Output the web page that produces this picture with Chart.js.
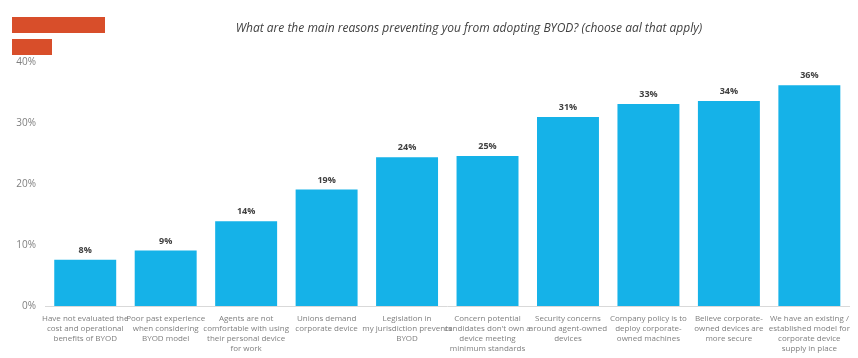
<!DOCTYPE html>
<html><head><meta charset="utf-8">
<script src="https://cdn.jsdelivr.net/npm/chart.js@4"></script>
<style>
html,body{margin:0;padding:0;background:#fff;}
#wrap{position:relative;width:858px;height:358px;}
.tag{position:absolute;background:#D84E2A;}
#title{position:absolute;left:0;width:938px;top:19px;text-align:center;white-space:nowrap;
  font-family:"Open Sans";font-style:italic;font-size:12px;color:#404040;line-height:18px;}
canvas{position:absolute;left:0;top:0;}
</style></head>
<body>
<div id="wrap">
<div class="tag" style="left:12px;top:17px;width:93px;height:16px"></div>
<div class="tag" style="left:12px;top:39px;width:40px;height:16px"></div>
<canvas id="c" width="858" height="358"></canvas>
<div id="title"></div>
</div>
<script>
const titleText = "What are the main reasons preventing you from adopting BYOD? (choose aal that apply)";
const categories = [
  ["Have not evaluated the","cost and operational","benefits of BYOD"],
  ["Poor past experience","when considering","BYOD model"],
  ["Agents are not","comfortable with using","their personal device","for work"],
  ["Unions demand","corporate device"],
  ["Legislation in","my jurisdiction prevents","BYOD"],
  ["Concern potential","candidates don't own a","device meeting","minimum standards"],
  ["Security concerns","around agent-owned","devices"],
  ["Company policy is to","deploy corporate-","owned machines"],
  ["Believe corporate-","owned devices are","more secure"],
  ["We have an existing /","established model for","corporate device","supply in place"]
];
const values = [7.6, 9.1, 13.9, 19.1, 24.4, 24.6, 31.0, 33.1, 33.6, 36.2];
const yTicks = [0, 10, 20, 30, 40];

document.getElementById('title').textContent = titleText;

const valueLabels = {
  id: 'valueLabels',
  afterDatasetsDraw(chart) {
    const ctx = chart.ctx;
    const meta = chart.getDatasetMeta(0);
    ctx.save();
    ctx.font = 'bold 9px "Open Sans"';
    ctx.fillStyle = '#404040';
    ctx.textAlign = 'center';
    ctx.textBaseline = 'bottom';
    meta.data.forEach((bar, i) => {
      ctx.fillText(Math.round(values[i]) + '%', bar.x, bar.y - 5);
    });
    ctx.restore();
  }
};

new Chart(document.getElementById('c'), {
  type: 'bar',
  data: {
    labels: categories,
    datasets: [{
      data: values,
      backgroundColor: '#15B2E8',
      borderWidth: 0,
      barPercentage: 0.77,
      categoryPercentage: 1.0
    }]
  },
  options: {
    responsive: false,
    animation: false,
    layout: { padding: { top: 62, right: 1, left: 0, bottom: 0 } },
    plugins: {
      legend: { display: false },
      tooltip: { enabled: false },
      title: { display: false }
    },
    scales: {
      x: {
        grid: { display: false, drawTicks: false },
        border: { display: true, color: '#d9d9d9' },
        ticks: {
          autoSkip: false, maxRotation: 0, minRotation: 0,
          color: '#7f7f7f',
          font: { family: '"Open Sans"', size: 8, lineHeight: 1.25 },
          padding: 8
        },
        afterFit(s) { s.height = 52; }
      },
      y: {
        min: 0, max: 40,
        grid: { display: false, drawTicks: false },
        border: { display: false },
        afterBuildTicks(s) { s.ticks = yTicks.map(v => ({ value: v })); },
        ticks: {
          color: '#7f7f7f',
          font: { family: '"Open Sans"', size: 10 },
          padding: 9,
          callback: v => v + '%'
        },
        afterFit(s) { s.width = 45; }
      }
    }
  },
  plugins: [valueLabels]
});
</script>
</body></html>
